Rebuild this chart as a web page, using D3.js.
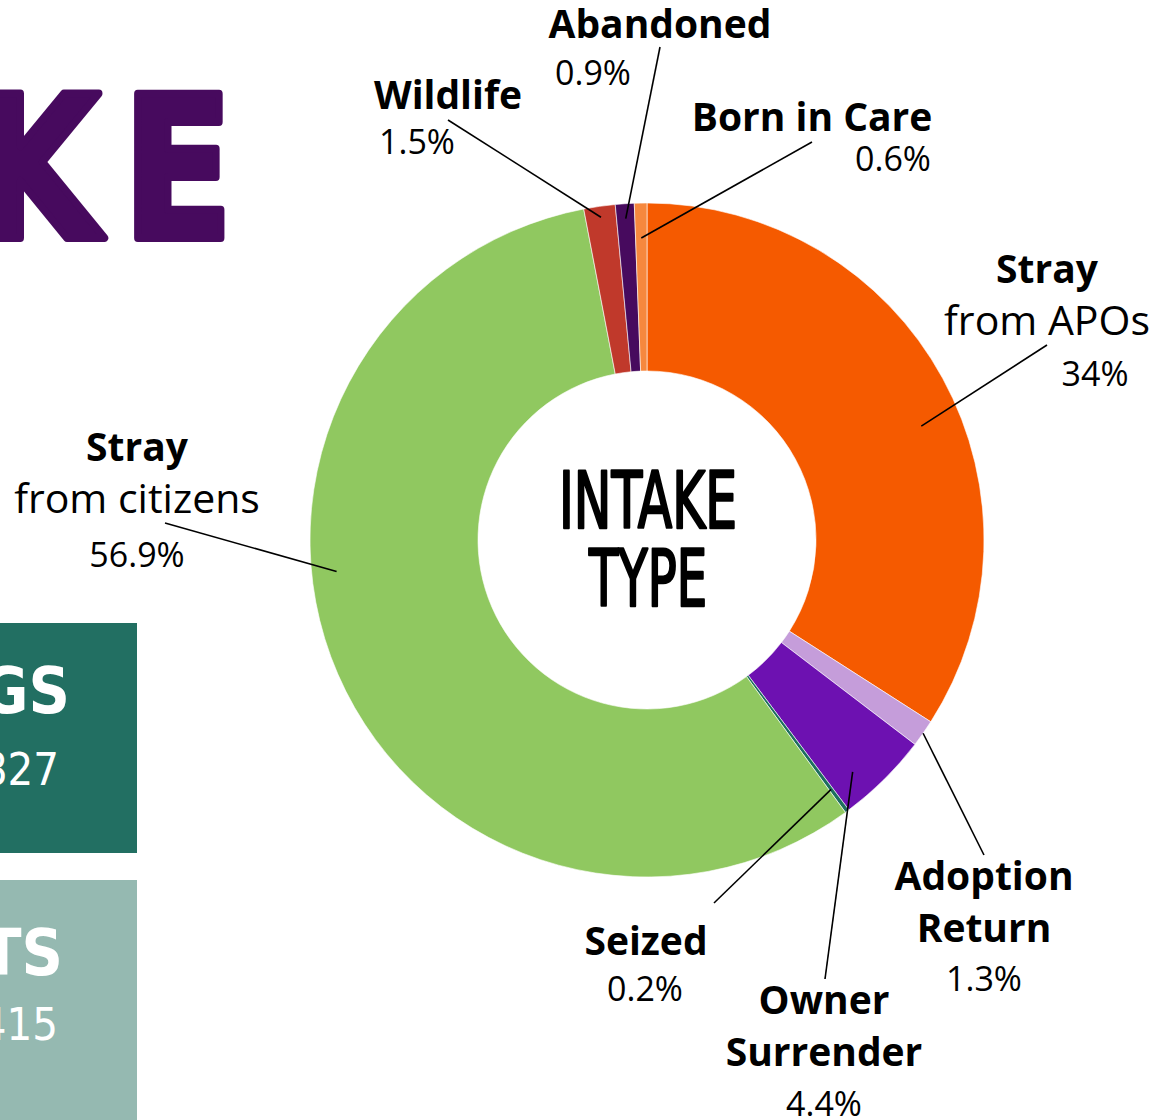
<!DOCTYPE html>
<html>
<head>
<meta charset="utf-8">
<script src="https://cdn.jsdelivr.net/npm/d3@7"></script>
<style>
  body { margin: 0; background: #fff; }
  svg { display: block; }
</style>
</head>
<body>
<script>
// intake type shares, clockwise from 12 o'clock
const categories = ["Stray from APOs", "Adoption Return", "Owner Surrender", "Seized",
                    "Stray from citizens", "Wildlife", "Abandoned", "Born in Care"]
const values = [34, 1.3, 4.4, 0.2, 56.9, 1.5, 0.9, 0.6]
const pctLabels = ["34%", "1.3%", "4.4%", "0.2%", "56.9%", "1.5%", "0.9%", "0.6%"]
const colors = ["#F55A00", "#C59DDA", "#6D11B1", "#1E6E5F", "#90C860", "#C0392B", "#470A5E", "#F6883E"]
const boxLabels = ["DOGS", "CATS"]
const boxValues = ["827", "415"]

const width = 1166
const height = 1120
const cx = 647, cy = 540
const outerR = 337, innerR = 169
const condensed = "'DejaVu Sans Condensed', 'DejaVu Sans', sans-serif"

const svg = d3.select("body").append("svg")
    .attr("width", width)
    .attr("height", height)

// big title, cut off at left edge
svg.append("text")
    .attr("transform", "translate(256,238) scale(0.9,1)")
    .attr("text-anchor", "end")
    .attr("font-family", condensed)
    .attr("font-weight", 700)
    .attr("font-size", 198)
    .attr("letter-spacing", 26)
    .attr("fill", "#470A5E")
    .attr("stroke", "#470A5E").attr("stroke-width", 8).attr("stroke-linejoin", "round")
    .text("INTAKE")

// the two side boxes
const boxes = svg.selectAll("g.box")
    .data(boxLabels)
    .enter().append("g")
    .attr("class", "box")
    .attr("transform", (d, i) => `translate(0,${i === 0 ? 623 : 880})`)
boxes.append("rect")
    .attr("x", -200).attr("y", 0)
    .attr("width", 337)
    .attr("height", (d, i) => i === 0 ? 230 : 240)
    .attr("fill", (d, i) => i === 0 ? "#226F62" : "#95B9B1")
boxes.append("text")
    .attr("x", (d, i) => i === 0 ? 70 : 63)
    .attr("y", (d, i) => i === 0 ? 90 : 95)
    .attr("text-anchor", "end")
    .attr("font-family", condensed)
    .attr("font-weight", 700)
    .attr("font-size", 64)
    .attr("fill", "#fff")
    .text(d => d)
boxes.append("text")
    .attr("x", (d, i) => i === 0 ? 59 : 58)
    .attr("y", (d, i) => i === 0 ? 162 : 160)
    .attr("text-anchor", "end")
    .attr("font-family", condensed)
    .attr("font-size", 45)
    .attr("fill", "#fff")
    .text((d, i) => boxValues[i])

// donut
const pie = d3.pie().sort(null).value(d => d)
const arcs = pie(values)
const arc = d3.arc().innerRadius(innerR).outerRadius(outerR)

const g = svg.append("g").attr("transform", `translate(${cx},${cy})`)
g.selectAll("path")
    .data(arcs)
    .enter().append("path")
    .attr("d", arc)
    .attr("fill", (d, i) => colors[i])
    .attr("stroke", "#fff")
    .attr("stroke-width", 0.6)

// label layout: text anchor, line end, where along the slice the line starts
const layout = [
    { x: 1047, y: 283, lines: ["Stray", "from APOs"], px: 1095, py: 386, lx: 1047, ly: 345, t: 0.55, r: 297 },
    { x: 984, y: 890, lines: ["Adoption", "Return"], px: 984, py: 991, lx: 984, ly: 855, t: 0.5, r: 337 },
    { x: 824, y: 1014, lines: ["Owner", "Surrender"], px: 824, py: 1116, lx: 825, ly: 979, t: 0.7, r: 310 },
    { x: 646, y: 955, lines: ["Seized"], px: 645, py: 1001, lx: 714, ly: 903, t: 0.5, r: 310 },
    { x: 137, y: 461, lines: ["Stray", "from citizens"], px: 137, py: 567, lx: 165, ly: 523, t: 0.586, r: 312 },
    { x: 448, y: 109, lines: ["Wildlife"], px: 417, py: 154, lx: 448, ly: 120, t: 0.5, r: 326 },
    { x: 660, y: 38, lines: ["Abandoned"], px: 593, py: 85, lx: 660, ly: 47, t: 0.5, r: 322 },
    { x: 812, y: 131, lines: ["Born in Care"], px: 893, py: 171, lx: 812, ly: 142, t: 0.5, r: 302 }
]

arcs.forEach((a, i) => {
    const L = layout[i]
    const ang = a.startAngle + (a.endAngle - a.startAngle) * L.t
    svg.append("line")
        .attr("x1", cx + L.r * Math.sin(ang))
        .attr("y1", cy - L.r * Math.cos(ang))
        .attr("x2", L.lx).attr("y2", L.ly)
        .attr("stroke", "#000").attr("stroke-width", 1.6)

    L.lines.forEach((s, k) => {
        const bold = k === 0 || (s !== "from APOs" && s !== "from citizens")
        svg.append("text")
            .attr("x", L.x).attr("y", L.y + k * 52)
            .attr("text-anchor", "middle")
            .attr("font-family", "Open Sans")
            .attr("font-weight", bold ? 700 : 400)
            .attr("font-size", bold ? 39 : 41)
            .attr("fill", "#000")
            .text(s)
    })
    svg.append("text")
        .attr("x", L.px).attr("y", L.py)
        .attr("text-anchor", "middle")
        .attr("font-family", "Open Sans")
        .attr("font-size", 34)
        .attr("fill", "#000")
        .text(pctLabels[i])
})

// centre caption
const centre = [["INTAKE", 528, 178], ["TYPE", 606, 118]]
centre.forEach(([s, y, w]) => {
    svg.append("text")
        .attr("x", cx - w / 2 + 1).attr("y", y)
        .attr("font-family", condensed)
        .attr("font-size", 78)
        .attr("textLength", w)
        .attr("lengthAdjust", "spacingAndGlyphs")
        .attr("fill", "#000")
        .attr("stroke", "#000").attr("stroke-width", 2.5).attr("stroke-linejoin", "round")
        .text(s)
})
</script>
</body>
</html>
